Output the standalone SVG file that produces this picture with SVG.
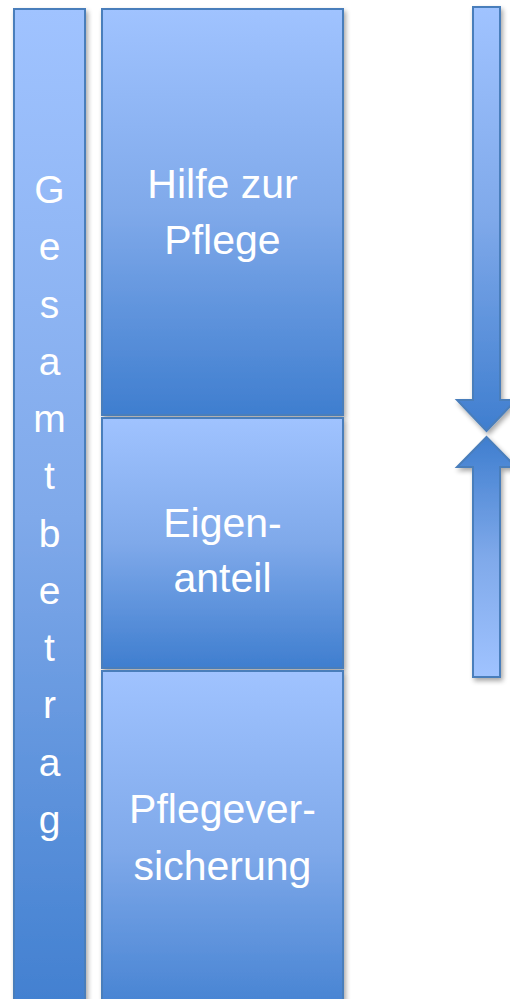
<svg xmlns="http://www.w3.org/2000/svg" width="510" height="999" viewBox="0 0 510 999">
<defs>
<linearGradient id="g" x1="0" y1="0" x2="0" y2="1">
<stop offset="0" stop-color="#A0C3FF"/>
<stop offset="0.5" stop-color="#7FA9EA"/>
<stop offset="1" stop-color="#3F7ECF"/>
</linearGradient>
<linearGradient id="gup" x1="0" y1="1" x2="0" y2="0">
<stop offset="0" stop-color="#A0C3FF"/>
<stop offset="0.5" stop-color="#7FA9EA"/>
<stop offset="1" stop-color="#3F7ECF"/>
</linearGradient>
<filter id="sh" x="-20%" y="-5%" width="140%" height="110%">
<feGaussianBlur in="SourceAlpha" stdDeviation="2.5"/>
<feOffset dx="2" dy="3"/>
<feComponentTransfer><feFuncA type="linear" slope="0.35"/></feComponentTransfer>
<feMerge><feMergeNode/><feMergeNode in="SourceGraphic"/></feMerge>
</filter>
</defs>
<style>
.box{fill:url(#g);stroke:#4A7EBB;stroke-width:2;filter:url(#sh)}
.t{font-family:"Liberation Sans",Arial,sans-serif;font-size:41px;fill:#FFFFFF;text-anchor:middle}
.v{font-family:"Liberation Sans",Arial,sans-serif;font-size:39px;fill:#FFFFFF;text-anchor:middle}
</style>
<g id="gesamtbetrag">
<rect class="box" x="14" y="9" width="71" height="1020"/>
<text class="v" x="49.5" y="203">G</text>
<text class="v" x="49.5" y="260">e</text>
<text class="v" x="49.5" y="318">s</text>
<text class="v" x="49.5" y="375">a</text>
<text class="v" x="49.5" y="432">m</text>
<text class="v" x="49.5" y="489">t</text>
<text class="v" x="49.5" y="547">b</text>
<text class="v" x="49.5" y="604">e</text>
<text class="v" x="49.5" y="661">t</text>
<text class="v" x="49.5" y="718">r</text>
<text class="v" x="49.5" y="776">a</text>
<text class="v" x="49.5" y="833">g</text>
</g>
<g id="hilfe">
<rect class="box" x="102" y="9" width="241" height="406"/>
<text class="t" x="222.5" y="198">Hilfe zur</text>
<text class="t" x="222.5" y="254">Pflege</text>
</g>
<g id="eigenanteil">
<rect class="box" x="102" y="418" width="241" height="250"/>
<text class="t" x="222.5" y="537">Eigen-</text>
<text class="t" x="222.5" y="592">anteil</text>
</g>
<g id="pflegeversicherung">
<rect class="box" x="102" y="671" width="241" height="358"/>
<text class="t" x="222.5" y="823">Pflegever-</text>
<text class="t" x="222.5" y="880">sicherung</text>
</g>
<g id="connectors">
<path d="M473 7 H500 V400 H516 L486.5 431 L457 400 H473 Z" fill="url(#g)" stroke="#4A7EBB" stroke-width="2" filter="url(#sh)"/>
<path d="M486.5 437 L516 467 H500 V677 H473 V467 H457 Z" fill="url(#gup)" stroke="#4A7EBB" stroke-width="2" filter="url(#sh)"/>
</g>
</svg>
